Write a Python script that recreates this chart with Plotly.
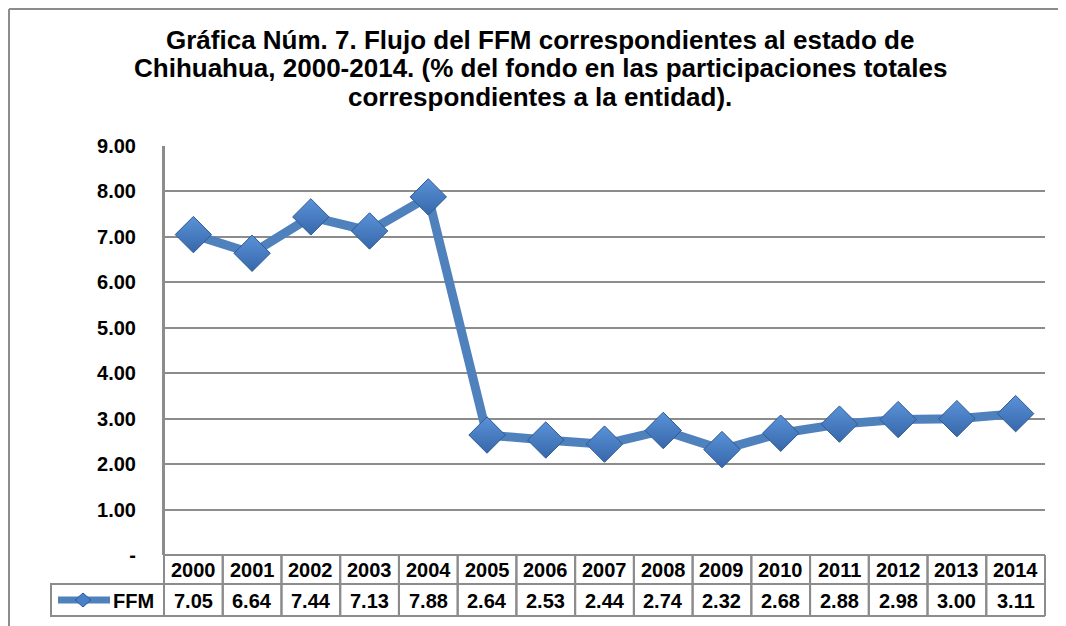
import plotly.graph_objects as go

years = [2000, 2001, 2002, 2003, 2004, 2005, 2006, 2007, 2008, 2009, 2010, 2011, 2012, 2013, 2014]
ffm = [7.05, 6.64, 7.44, 7.13, 7.88, 2.64, 2.53, 2.44, 2.74, 2.32, 2.68, 2.88, 2.98, 3.00, 3.11]
series_name = "FFM"
y_ticks = [0, 1, 2, 3, 4, 5, 6, 7, 8, 9]
y_ticktext = ["-", "1.00", "2.00", "3.00", "4.00", "5.00", "6.00", "7.00", "8.00", "9.00"]
title_lines = ["Gráfica Núm. 7. Flujo del FFM correspondientes al estado de",
               "Chihuahua, 2000-2014. (% del fondo en las participaciones totales",
               "correspondientes a la entidad)."]

OFF = 8  # page body margin
SW, SH = 1066, 626
W, H = SW - OFF, SH - OFF
# plot area in screen pixels
PX0, PX1, PY0, PY1 = 164, 1045, 146, 555
L, R, T, B = PX0 - OFF, SW - PX1, PY0 - OFF, SH - PY1
PW, PH = PX1 - PX0, PY1 - PY0

def px_x(px):
    return (px - PX0) / PW

def px_y(py):
    return (PY1 - py) / PH

FONT = "Liberation Sans, Arial, sans-serif"
LINE_BLUE = "#4F81BD"
GRID = "#8C8C8C"

fig = go.Figure()
fig.add_trace(go.Scatter(
    x=years, y=ffm, mode="lines+markers", name=series_name,
    line=dict(color=LINE_BLUE, width=9),
    marker=dict(symbol="diamond", size=28, color="#5A92D8",
                gradient=dict(type="vertical", color="#3767AA"),
                line=dict(color="#2E5A93", width=1)),
    cliponaxis=False, showlegend=False,
))

shapes = []
annotations = []

# chart outer border (left and top edges visible)
bx, by = px_x(OFF + 1), px_y(OFF + 1)
shapes.append(dict(type="line", xref="paper", yref="paper",
                   x0=bx, x1=px_x(SW + 5), y0=by, y1=by,
                   line=dict(color="#8C8C8C", width=2)))
shapes.append(dict(type="line", xref="paper", yref="paper",
                   x0=bx, x1=bx, y0=by, y1=px_y(SH + 5),
                   line=dict(color="#8C8C8C", width=2)))

# data table
y_top = 0.0
y_mid = px_y(584)
y_bot = px_y(616)
cell_line = dict(color=GRID, width=2)
for yr, v in zip(years, ffm):
    shapes.append(dict(type="rect", xref="x", yref="paper",
                       x0=yr - 0.5, x1=yr + 0.5, y0=y_mid, y1=y_top,
                       line=cell_line, layer="above"))
    shapes.append(dict(type="rect", xref="x", yref="paper",
                       x0=yr - 0.5, x1=yr + 0.5, y0=y_bot, y1=y_mid,
                       line=cell_line, layer="above"))
    annotations.append(dict(x=yr, y=px_y(570), xref="x", yref="paper",
                            xanchor="center", yanchor="middle",
                            text=f"<b>{yr}</b>", showarrow=False,
                            font=dict(family=FONT, size=20, color="black")))
    annotations.append(dict(x=yr, y=px_y(601), xref="x", yref="paper",
                            xanchor="center", yanchor="middle",
                            text=f"<b>{v:.2f}</b>", showarrow=False,
                            font=dict(family=FONT, size=20, color="black")))
# outer table edges (paper refs so they aren't clipped)
shapes.append(dict(type="line", xref="paper", yref="paper", x0=1, x1=1, y0=y_bot, y1=y_top,
                   line=cell_line))
shapes.append(dict(type="line", xref="paper", yref="paper", x0=0, x1=0, y0=y_bot, y1=1,
                   line=cell_line))
# legend cell
shapes.append(dict(type="rect", xref="paper", yref="paper",
                   x0=px_x(51), x1=0, y0=y_bot, y1=y_mid, line=cell_line))
ly = px_y(600)
shapes.append(dict(type="line", xref="paper", yref="paper",
                   x0=px_x(58), x1=px_x(110), y0=ly, y1=ly,
                   line=dict(color=LINE_BLUE, width=7)))
cx, cy = 83, 600
shapes.append(dict(type="path", xref="paper", yref="paper",
                   path=(f"M {px_x(cx - 8)} {px_y(cy)} L {px_x(cx)} {px_y(cy - 7)} "
                         f"L {px_x(cx + 8)} {px_y(cy)} L {px_x(cx)} {px_y(cy + 7)} Z"),
                   fillcolor="#4A80C9", line=dict(color="#2E5A93", width=1)))
annotations.append(dict(x=px_x(156), y=px_y(601), xref="paper", yref="paper",
                        xanchor="right", yanchor="middle",
                        text=f"<b>{series_name}</b>", showarrow=False,
                        font=dict(family=FONT, size=20, color="black")))

# title, one annotation per line for tight spacing
for line_text, ty in zip(title_lines, [40, 68, 97]):
    annotations.append(dict(x=px_x(540), y=px_y(ty), xref="paper", yref="paper",
                            text=f"<b>{line_text}</b>", showarrow=False,
                            xanchor="center", yanchor="middle",
                            font=dict(family=FONT, size=26, color="black")))

fig.update_layout(
    width=W, height=H,
    margin=dict(l=L, r=R, t=T, b=B, pad=0),
    paper_bgcolor="white", plot_bgcolor="white",
    shapes=shapes, annotations=annotations,
    xaxis=dict(range=[1999.5, 2014.5], showgrid=False, showticklabels=False,
               zeroline=False, showline=False, ticks=""),
    yaxis=dict(range=[0, 9], tickvals=y_ticks, ticktext=y_ticktext,
               showgrid=True, gridcolor=GRID, gridwidth=1.5,
               zeroline=False, showline=True, linecolor=GRID, linewidth=2,
               ticks="", ticklabelstandoff=22,
               tickfont=dict(family=FONT, size=20, color="black", weight="bold")),
)

fig.write_html("out.html")
